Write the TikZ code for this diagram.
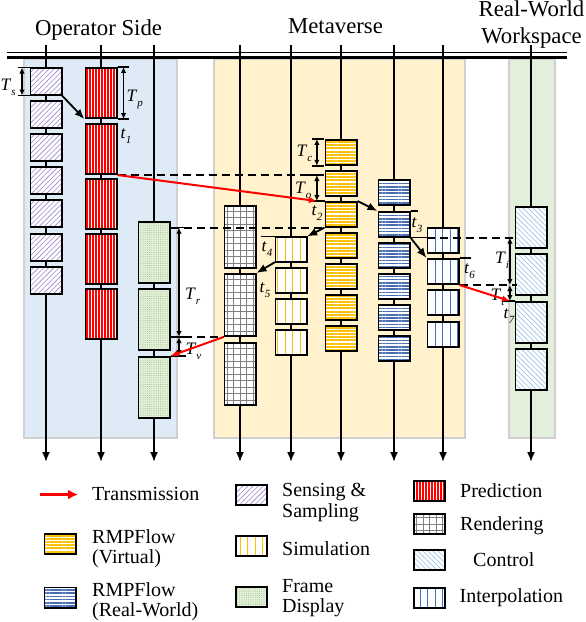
\documentclass[tikz,border=0pt]{standalone}
\usepackage{fontspec}
\setmainfont{Liberation Serif}
\usetikzlibrary{arrows.meta,patterns.meta,calc}
\definecolor{opbg}{HTML}{DEEAF6}
\definecolor{mvbg}{HTML}{FFF2CC}
\definecolor{rwbg}{HTML}{E2EFDA}
\definecolor{panelborder}{HTML}{D0D0D0}
\definecolor{sensc}{HTML}{9E80D0}
\definecolor{predc}{HTML}{FF0000}
\definecolor{framebg}{HTML}{E4F0DC}
\definecolor{framec}{HTML}{8DBF6E}
\definecolor{rendc}{HTML}{808080}
\definecolor{simc}{HTML}{FFC000}
\definecolor{rmpvc}{HTML}{FFC000}
\definecolor{rmprc}{HTML}{4A6FB5}
\definecolor{ctrlc}{HTML}{A9CBEA}
\definecolor{intc}{HTML}{4472C4}
\newcommand{\lbl}[2]{\textit{#1}\raisebox{-5pt}{\fontsize{11}{11}\selectfont\textit{#2}}}
\begin{document}
\begin{tikzpicture}[x=1pt,y=-1pt,
  box/.style={draw=black, line width=1.6pt, inner sep=0pt, minimum width=31.4pt},
  sens/.style={box, minimum height=27.4pt, preaction={fill=white}, pattern={Lines[angle=45,distance=3.6pt,line width=0.6pt]}, pattern color=sensc},
  pred/.style={box, minimum height=50.4pt, preaction={fill=white}, pattern={Lines[angle=90,distance=3pt,line width=1.7pt]}, pattern color=predc},
  frm/.style={box, minimum height=61.4pt, preaction={fill=framebg}, pattern={Dots[distance=2.2pt,radius=0.5pt]}, pattern color=framec},
  rend/.style={box, minimum height=62.4pt, fill=white, path picture={\draw[rendc, line width=0.7pt] ([xshift=-1pt,yshift=-1pt]path picture bounding box.south west) grid[step=6.5pt] ([xshift=1pt,yshift=1pt]path picture bounding box.north east);}},
  simb/.style={box, minimum height=25pt, preaction={fill=white}, pattern={Lines[angle=90,distance=7.5pt,line width=0.8pt]}, pattern color=simc},
  rmpv/.style={box, minimum height=25pt, preaction={fill=white}, pattern={Lines[angle=0,distance=3.2pt,line width=1.9pt]}, pattern color=rmpvc},
  rmpr/.style={box, minimum height=25pt, preaction={fill=white}, pattern={Lines[angle=0,distance=3.2pt,line width=1.7pt]}, pattern color=rmprc},
  ctrl/.style={box, minimum height=41.4pt, preaction={fill=white}, pattern={Lines[angle=-45,distance=3.6pt,line width=0.8pt]}, pattern color=ctrlc},
  intp/.style={box, minimum height=25.4pt, preaction={fill=white}, pattern={Lines[angle=90,distance=7.5pt,line width=0.9pt]}, pattern color=intc},
  swatch/.style={minimum height=20.4pt},
  conn/.style={line width=1.8pt, -{Latex[length=10pt,width=8pt]}},
  redarr/.style={draw=red, line width=2pt, -{Latex[length=8pt,width=6.5pt]}},
  dimarr/.style={line width=1.4pt, {Latex[length=6pt,width=5.5pt]}-{Latex[length=6pt,width=5.5pt]}},
  tickl/.style={line width=1.6pt},
  dashln/.style={line width=1.8pt, dash pattern=on 8pt off 5pt},
  tline/.style={line width=1.8pt, -{Latex[length=10pt,width=8pt]}},
  ttl/.style={font=\fontsize{22.75}{27}\selectfont, inner sep=0pt, anchor=base},
  lab/.style={font=\fontsize{17.5}{20}\selectfont, inner sep=0pt, anchor=base west},
  leg/.style={font=\fontsize{20}{24}\selectfont, inner sep=0pt, anchor=base west}
]
\useasboundingbox (0,0) rectangle (586,622);

% panels
\filldraw[fill=opbg, draw=panelborder, line width=2pt] (23.5,59) rectangle (177,438);
\filldraw[fill=mvbg, draw=panelborder, line width=2pt] (214,59) rectangle (465,438);
\filldraw[fill=rwbg, draw=panelborder, line width=2pt] (509,59) rectangle (554.5,438);

% titles
\node[ttl] (tOp) at (98.5,35.5) {Operator Side};
\node[ttl] (tMv) at (335.5,33.5) {Metaverse};
\node[ttl] (tRw1) at (531.5,16.5) {Real-World};
\node[ttl] (tRw2) at (531.5,43) {Workspace};

% timelines
\foreach \xx [count=\i] in {46,101,154,240,291,341,394,443,531} {
  \coordinate (top\i) at (\xx,45);
  \coordinate (bot\i) at (\xx,462);
  \draw[tline] (top\i) -- (bot\i);
}

% double line
\coordinate (dlA) at (7,52.8); \coordinate (dlB) at (567,52.8);
\coordinate (dlC) at (7,57.3); \coordinate (dlD) at (567,57.3);
\draw[line width=1.3pt] (dlA) -- (dlB);
\draw[line width=2.4pt] (dlC) -- (dlD);

% boxes
\foreach \yy [count=\i] in {67,100,133,166,199,233,266} \node[sens] (s\i) at (46,{\yy+14.5}) {};
\foreach \yy [count=\i] in {67,123,178,233,288} \node[pred] (p\i) at (101,{\yy+26}) {};
\foreach \yy [count=\i] in {221,288,356} \node[frm] (f\i) at (154,{\yy+31.5}) {};
\foreach \yy [count=\i] in {205,273,342} \node[rend] (d\i) at (240,{\yy+32}) {};
\foreach \yy [count=\i] in {236,267,298,329} \node[simb] (m\i) at (291,{\yy+13.3}) {};
\foreach \yy [count=\i] in {139,170,201,232,263,294,325} \node[rmpv] (v\i) at (341,{\yy+13.3}) {};
\foreach \yy [count=\i] in {179,211,242,273,304,335} \node[rmpr] (r\i) at (394,{\yy+13.3}) {};
\foreach \yy [count=\i] in {227,258,289,321} \node[intp] (i\i) at (443,{\yy+13.5}) {};
\foreach \yy [count=\i] in {206,253,301,348} \node[ctrl] (c\i) at (531,{\yy+21.5}) {};

% labels
\node[lab] (lTs) at (0.5,90) {\lbl{T}{s}};
\node[lab] (lTp) at (126.5,101.5) {\lbl{T}{p}};
\node[lab] (lt1) at (120.5,138.5) {\lbl{t}{1}};
\node[lab] (lTc) at (296.5,156.5) {\lbl{T}{c}};
\node[lab] (lTo) at (295,193) {\lbl{T}{o}};
\node[lab] (lt2) at (311.5,215) {\lbl{t}{2}};
\node[lab] (lt3) at (411.5,227) {\lbl{t}{3}};
\node[lab] (lt4) at (261.5,251.5) {\lbl{t}{4}};
\node[lab] (lt5) at (259.5,292) {\lbl{t}{5}};
\node[lab] (lTr) at (185,299) {\lbl{T}{r}};
\node[lab] (lTv) at (185.5,354) {\lbl{T}{v}};
\node[lab] (lTi) at (495,263.5) {\lbl{T}{i}};
\node[lab] (lTt) at (490.5,300.5) {\lbl{T}{t}};
\node[lab] (lt6) at (464,273.5) {\lbl{t}{6}};
\node[lab] (lt7) at (503.5,318.5) {\lbl{t}{7}};

% T_s
\draw[tickl] ($(s1.north west)+(-12,0)$) -- (s1.north west);
\draw[tickl] ($(s1.south west)+(-12,0)$) -- (s1.south west);
\draw[dimarr] ($(s1.north west)+(-8,0)$) -- ($(s1.south west)+(-8,0)$);
% T_p
\draw[tickl] (p1.north east) -- ++(11,0);
\draw[tickl] (p1.south east) -- ++(11,0);
\draw[dimarr] ($(p1.north east)+(6,0)$) -- ($(p1.south east)+(6,0)$);
\draw[conn] (s1.south east) -- (p1.south west);

% T_c and T_o
\coordinate (xT) at ($(v1.west)+(-7.5,0)$);
\draw[tickl] ($(v1.north west)+(-12,0)$) -- (v1.north west);
\draw[tickl] ($(v1.south west)+(-12,0)$) -- (v1.south west);
\draw[dimarr] (xT |- v1.north) -- (xT |- v1.south);
\coordinate (dEnd) at ($(v1.west |- p2.south east)+(-16,0)$);
\draw[dashln] (p2.south east) -- (dEnd);
\draw[tickl] (dEnd) -- (v1.west |- p2.south east);
\draw[dimarr] (xT |- p2.south) -- (xT |- v3.north);
\draw[tickl] ($(v3.north west)+(-12,0)$) -- (v3.north west);
\draw[redarr] (p2.south east) -- (xT |- v3.north);

% metaverse chain
\draw[conn] (v3.north east) -- (r2.north west);
\draw[tickl] (r2.north east) -- ++(7,0);
\coordinate (fr1) at (f1.east |- v3.south west);
\coordinate (fr2) at (f1.east |- d2.south west);
\coordinate (xR) at ($(f1.east)+(8.5,0)$);
\draw[dashln] (fr1) -- (v3.south west);
\draw[conn] (v3.south west) -- (m1.north east);
\draw[tickl] ($(m1.north west)+(-14,0)$) -- (m1.north west);
\draw[tickl] (fr1) -- ++(15,0);
\draw[dashln] (fr2) -- (d2.south west);
\draw[tickl] (fr2) -- ++(15,0);
\draw[tickl] (f3.north east) -- ++(15,0);
\draw[dimarr] (xR |- fr1) -- (xR |- fr2);
\draw[dimarr] (xR |- fr2) -- (xR |- f3.north);
\draw[conn] (m1.south west) -- (d2.north east);
\draw[redarr] (d2.south west) -- (f3.north east);

% real-world chain
\coordinate (xI) at ($(c1.west)+(-5,0)$);
\coordinate (dI1) at ($(c1.west |- r2.south east)+(2,0)$);
\coordinate (dI2) at ($(c1.west |- i2.south east)+(2,0)$);
\draw[tickl] (r2.south east) -- (i1.west |- r2.south east);
\draw[dashln] (i1.west |- r2.south east) -- (dI1);
\draw[conn] (r2.south east) -- (i2.north west);
\draw[tickl] (i2.north east) -- ++(11,0);
\draw[dashln] (i2.south east) -- (dI2);
\draw[tickl] ($(c3.north west)+(-12,0)$) -- (c3.north west);
\draw[dimarr] (xI |- r2.south) -- (xI |- i2.south);
\draw[dimarr] (xI |- i2.south) -- (xI |- c3.north);
\draw[redarr] (i2.south east) -- (xI |- c3.north);

% legend
\coordinate (legA) at (40,494.5); \coordinate (legB) at (78,494.5);
\draw[draw=red, line width=2.4pt, -{Latex[length=10pt,width=10pt]}] (legA) -- (legB);
\node[leg] (gTr) at (92,500.7) {Transmission};
\node[sens, swatch] (wS) at (251.5,495) {};
\node[leg] (gS1) at (282,496.5) {Sensing \&};
\node[leg] (gS2) at (282,517) {Sampling};
\node[pred, swatch] (wP) at (429.5,491) {};
\node[leg] (gP) at (460,497.7) {Prediction};
\node[rmpv, swatch] (wV) at (60,544) {};
\node[leg] (gV1) at (92,543) {RMPFlow};
\node[leg] (gV2) at (92,563) {(Virtual)};
\node[simb, swatch] (wM) at (251.5,546) {};
\node[leg] (gM) at (282,555) {Simulation};
\node[rend, swatch] (wD) at (429.5,524) {};
\node[leg] (gD) at (460,530.7) {Rendering};
\node[rmpr, swatch] (wR) at (60,597.5) {};
\node[leg] (gR1) at (92,596.5) {RMPFlow};
\node[leg] (gR2) at (92,616.5) {(Real-World)};
\node[frm, swatch] (wF) at (251.5,597) {};
\node[leg] (gF1) at (282,592) {Frame};
\node[leg] (gF2) at (282,612.5) {Display};
\node[ctrl, swatch] (wC) at (429.5,560) {};
\node[leg] (gC) at (473,566.7) {Control};
\node[intp, swatch] (wI) at (429.5,598) {};
\node[leg] (gI) at (459.5,602.7) {Interpolation};
\end{tikzpicture}
\end{document}
